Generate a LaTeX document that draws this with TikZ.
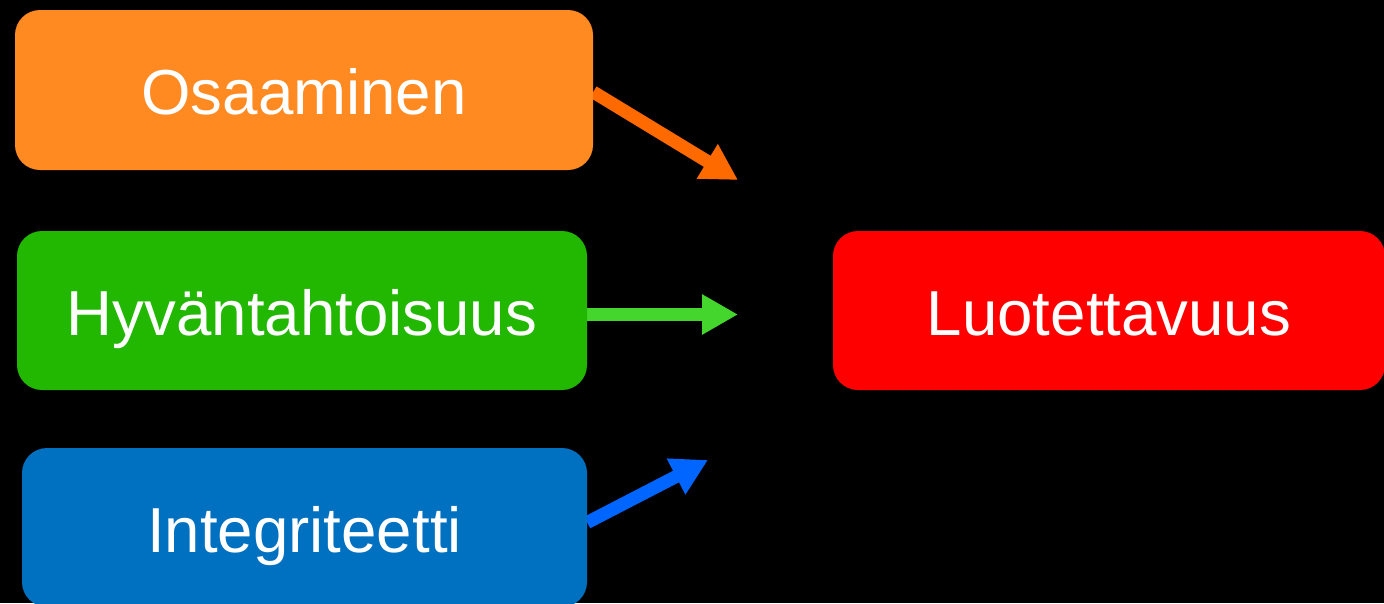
\documentclass[tikz,border=0pt]{standalone}
\usepackage{xcolor}
\usepackage{tikz}
\usepackage{fontspec}
\setmainfont{Liberation Sans}
\usetikzlibrary{positioning,calc,arrows.meta}
\pgfdeclarelayer{background}
\pgfsetlayers{background,main}

\definecolor{osaaFill}{HTML}{FF8A22}
\definecolor{osaaArrow}{HTML}{FF6A00}
\definecolor{hyvaFill}{HTML}{22B700}
\definecolor{hyvaArrow}{HTML}{44D62C}
\definecolor{integFill}{HTML}{0070C0}
\definecolor{integArrow}{HTML}{0066FF}
\definecolor{luotFill}{HTML}{FF0000}

\tikzset{
    factor/.style={rounded corners=25pt, inner sep=0pt, text=white,
        font=\fontsize{63.6}{70}\selectfont, text height=49pt, text depth=0pt,
        minimum height=159pt},
    link/.style={line width=13pt, -{Triangle[length=36pt, width=38pt]}}
}

\begin{document}
\begin{tikzpicture}[x=1pt, y=-1pt]
    \useasboundingbox (0,0) rectangle (1384,603);
    \begin{pgfonlayer}{background}
        \fill[black] (0,0) rectangle (1384,603);
    \end{pgfonlayer}

    % Factors
    \node[factor, fill=osaaFill, minimum width=578pt, minimum height=160pt] (osaa) at (304,90) {Osaaminen};
    \node[factor, fill=hyvaFill, minimum width=570pt] (hyva) at (302,310.5) {Hyväntahtoisuus};
    \node[factor, fill=integFill, minimum width=565pt] (integ) at (304.5,527.5) {Integriteetti};

    % Result
    \node[factor, fill=luotFill, minimum width=552pt] (luot) at (1109,310.5) {Luotettavuus};

    % Arrows
    \coordinate (osaaTip) at (738,180);
    \coordinate (hyvaTip) at (738,314.5);
    \coordinate (integTip) at (708,460);
    \begin{pgfonlayer}{background}
        \draw[link, osaaArrow] ([yshift=-2pt]osaa.east) -- (osaaTip);
        \draw[link, hyvaArrow] ([yshift=-4pt]hyva.east) -- (hyvaTip);
        \draw[link, integArrow] ([yshift=5pt]integ.east) -- (integTip);
    \end{pgfonlayer}
\end{tikzpicture}
\end{document}
